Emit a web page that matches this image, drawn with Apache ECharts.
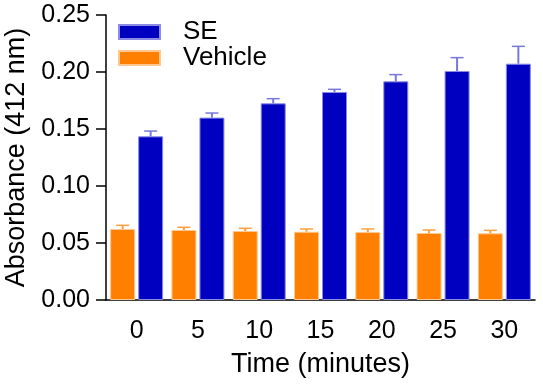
<!DOCTYPE html>
<html>
<head>
<meta charset="utf-8">
<script src="https://cdn.jsdelivr.net/npm/echarts@6/dist/echarts.min.js"></script>
<style>html,body{margin:0;padding:0;background:#fff;}#c{width:543px;height:390px;}</style>
</head>
<body>
<div id="c"></div>
<script>
var categories = ['0', '5', '10', '15', '20', '25', '30'];
var vehicleValues = [0.0623, 0.0614, 0.0605, 0.0599, 0.0596, 0.0588, 0.0585];
var vehicleErrors = [0.0032, 0.0024, 0.0024, 0.0024, 0.0027, 0.0026, 0.0026];
var seValues = [0.1436, 0.1600, 0.1725, 0.1825, 0.1918, 0.2009, 0.2073];
var seErrors = [0.0046, 0.0040, 0.0041, 0.0023, 0.0059, 0.0117, 0.0152];
var yTicks = { min: 0, max: 0.25, interval: 0.05 };

var FONT = 'Liberation Sans';
var BAR_W = 25, BAR_GAP = 3;

function errSeries(name, values, errors, offset, color) {
  return {
    type: 'custom',
    name: name + ' err',
    z: 5,
    silent: true,
    data: values.map(function (v, i) { return [i, v, errors[i]]; }),
    renderItem: function (params, api) {
      var i = api.value(0), v = api.value(1), e = api.value(2);
      var p0 = api.coord([i, v]);
      var p1 = api.coord([i, v + e]);
      var x = p0[0] + offset;
      var half = 6.5;
      return {
        type: 'group',
        children: [
          { type: 'line', shape: { x1: x, y1: p0[1], x2: x, y2: p1[1] }, style: { stroke: color, lineWidth: 2 } },
          { type: 'line', shape: { x1: x - half, y1: p1[1], x2: x + half, y2: p1[1] }, style: { stroke: color, lineWidth: 1.5 } }
        ]
      };
    }
  };
}

var chart = echarts.init(document.getElementById('c'), null, { renderer: 'canvas' });
var off = (BAR_W + BAR_GAP) / 2;
chart.setOption({
  animation: false,
  textStyle: { fontFamily: FONT },
  grid: { left: 106, right: 8, top: 15, bottom: 90, containLabel: false, outerBoundsMode: 'none' },
  legend: {
    data: ['SE', 'Vehicle'],
    orient: 'vertical',
    left: 113, top: 14,
    itemWidth: 41, itemHeight: 14, itemGap: 0,
    icon: 'rect',
    textStyle: { fontFamily: FONT, fontSize: 26, color: '#000', lineHeight: 25, padding: [0, 0, 0, 18] }
  },
  xAxis: {
    type: 'category',
    data: categories,
    name: 'Time (minutes)',
    nameLocation: 'middle',
    nameGap: 51,
    nameTextStyle: { fontFamily: FONT, fontSize: 27, color: '#000' },
    axisLine: { lineStyle: { color: '#000', width: 1.5 } },
    axisTick: { alignWithLabel: true, length: 10, lineStyle: { color: '#000', width: 1.5 } },
    axisLabel: { fontFamily: FONT, fontSize: 25, color: '#000', margin: 19 }
  },
  yAxis: {
    type: 'value',
    min: yTicks.min, max: yTicks.max, interval: yTicks.interval,
    name: 'Absorbance (412 nm)',
    nameLocation: 'middle',
    nameGap: 74,
    nameTextStyle: { fontFamily: FONT, fontSize: 27, color: '#000' },
    splitLine: { show: false },
    axisLine: { show: true, lineStyle: { color: '#000', width: 1.5 } },
    axisTick: { show: true, length: 10, lineStyle: { color: '#000', width: 1.5 } },
    axisLabel: { fontFamily: FONT, fontSize: 25, color: '#000', margin: 16, formatter: function (v) { return v.toFixed(2); } }
  },
  series: [
    {
      type: 'bar', name: 'Vehicle', data: vehicleValues,
      barWidth: BAR_W, barGap: (BAR_GAP / BAR_W * 100) + '%',
      itemStyle: { color: '#FF8000', borderColor: '#FFC890', borderWidth: 1 }
    },
    {
      type: 'bar', name: 'SE', data: seValues,
      barWidth: BAR_W, barGap: (BAR_GAP / BAR_W * 100) + '%',
      itemStyle: { color: '#0000C0', borderColor: '#8C8CE6', borderWidth: 1 }
    },
    errSeries('Vehicle', vehicleValues, vehicleErrors, -off, '#FFA040'),
    errSeries('SE', seValues, seErrors, off, '#7878DC')
  ]
});
</script>
</body>
</html>
